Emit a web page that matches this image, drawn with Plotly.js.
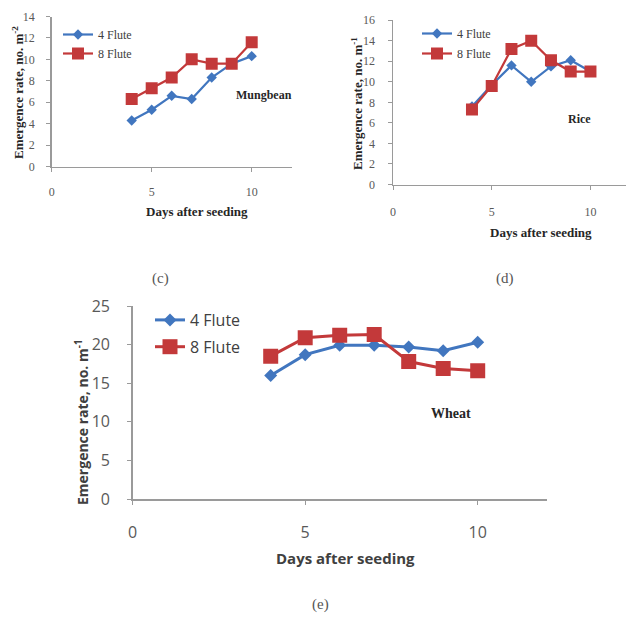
<!DOCTYPE html>
<html>
<head>
<meta charset="utf-8">
<script src="https://cdn.plot.ly/plotly-3.0.1.min.js"></script>
<style>html,body{margin:0;padding:0;background:#fff;}#chart{width:626px;height:622px;}</style>
</head>
<body>
<div id="chart"></div>
<script>
// ---- data ----
const days = [4, 5, 6, 7, 8, 9, 10];
const seriesNames = ["4 Flute", "8 Flute"];
const mungbean4 = [4.3, 5.3, 6.6, 6.3, 8.3, 9.6, 10.3];
const mungbean8 = [6.3, 7.3, 8.3, 10.0, 9.6, 9.6, 11.6];
const rice4 = [7.6, 9.7, 11.6, 10.0, 11.5, 12.1, 11.0];
const rice8 = [7.3, 9.6, 13.2, 14.0, 12.1, 11.0, 11.0];
const wheat4 = [16.0, 18.7, 19.9, 19.9, 19.7, 19.2, 20.3];
const wheat8 = [18.5, 20.9, 21.2, 21.3, 17.8, 16.9, 16.6];
const xTicks = [0, 5, 10];
const cropNames = ["Mungbean", "Rice", "Wheat"];
const panelLabels = ["(c)", "(d)", "(e)"];

const BLUE = "#4176bf", RED = "#c3393a";
const AX = "#9a9a9a", TICKC = "#595959";
const SERIF = "'Liberation Serif', 'DejaVu Serif', serif";
const SANS = "'Open Sans', 'Noto Sans', sans-serif";

function pair(y4, y8, xa, ya, leg, small) {
  return [
    {x: days, y: y4, name: seriesNames[0], xaxis: xa, yaxis: ya, legend: leg, legendgroup: leg + "a",
     mode: "lines+markers", line: {color: BLUE, width: small ? 2.2 : 3},
     marker: {symbol: "diamond", size: small ? 8 : 10, color: BLUE}},
    {x: days, y: y8, name: seriesNames[1], xaxis: xa, yaxis: ya, legend: leg, legendgroup: leg + "b",
     mode: "lines+markers", line: {color: RED, width: small ? 2.2 : 3},
     marker: {symbol: "square", size: small ? 12 : 15, color: RED}}
  ];
}

const data = [].concat(
  pair(mungbean4, mungbean8, "x", "y", "legend", true),
  pair(rice4, rice8, "x2", "y2", "legend2", true),
  pair(wheat4, wheat8, "x3", "y3", "legend3", false)
);

function xax(domain, range, font, standoff, anchor) {
  return {domain: domain, range: range, anchor: anchor, tickvals: xTicks, showline: true, linecolor: AX, linewidth: 1.5,
    ticks: "outside", ticklen: 4, tickcolor: AX, showgrid: false, zeroline: false,
    tickfont: font, ticklabelstandoff: standoff, fixedrange: true};
}
function yax(domain, range, dtick, font, standoff, anchor) {
  return {domain: domain, range: range, anchor: anchor, dtick: dtick, showline: true, linecolor: AX, linewidth: 1.5,
    ticks: "outside", ticklen: 4, tickcolor: AX, showgrid: false, zeroline: false,
    tickfont: font, ticklabelstandoff: standoff, fixedrange: true};
}

const smallTick = {family: SERIF, size: 12, color: TICKC};
const bigTick = {family: SANS, size: 16, color: TICKC};

const W = 626, H = 622;
const px = v => v / W, py = v => 1 - v / H;

const ann = [];
function txt(x, y, text, font, extra) {
  ann.push(Object.assign({xref: "paper", yref: "paper", x: px(x), y: py(y), text: text, showarrow: false,
    xanchor: "center", yanchor: "middle", font: font}, extra || {}));
}
const smallTitle = {family: SERIF, size: 13, color: "#262626"};
// panel (c)
txt(197, 212, "<b>Days after seeding</b>", smallTitle);
txt(18, 93, "<b>Emergence rate, no. m<sup>-2</sup></b>", smallTitle, {textangle: -90});
txt(264, 95, "<b>" + cropNames[0] + "</b>", {family: SERIF, size: 12, color: "#262626"});
txt(160, 278, panelLabels[0], {family: SERIF, size: 15, color: "#555"});
// panel (d)
txt(541, 233, "<b>Days after seeding</b>", smallTitle);
txt(357, 104, "<b>Emergence rate, no. m<sup>-1</sup></b>", smallTitle, {textangle: -90});
txt(579, 119, "<b>" + cropNames[1] + "</b>", {family: SERIF, size: 12, color: "#262626"});
txt(505, 278, panelLabels[1], {family: SERIF, size: 15, color: "#555"});
// panel (e)
txt(345, 558, "<b>Days after seeding</b>", {family: SANS, size: 15, color: "#404040"});
txt(82, 422, "<b>Emergence rate, no. m<sup>-1</sup></b>", {family: SANS, size: 14, color: "#404040"}, {textangle: -90});
txt(451, 413, "<b>" + cropNames[2] + "</b>", {family: SERIF, size: 14, color: "#262626"});
txt(320, 604, panelLabels[2], {family: SERIF, size: 15, color: "#555"});

const layout = {
  width: W, height: H, margin: {l: 0, r: 0, t: 0, b: 0},
  paper_bgcolor: "#fff", plot_bgcolor: "rgba(0,0,0,0)",
  showlegend: true,
  xaxis: xax([px(51.7), px(291.7)], [0, 12], smallTick, 10, "y"),
  yaxis: yax([py(166.5), py(16.5)], [0, 14], 2, smallTick, 9, "x"),
  xaxis2: xax([px(393), 1], [0, 11.8], smallTick, 12, "y2"),
  yaxis2: yax([py(184.5), py(20.2)], [0, 16], 2, smallTick, 10, "x2"),
  xaxis3: xax([px(132.7), px(546.7)], [0, 12], bigTick, 14, "y3"),
  yaxis3: yax([py(499), py(306)], [0, 25], 5, bigTick, 14, "x3"),
  legend: {x: px(58), y: py(20), xanchor: "left", yanchor: "top", bgcolor: "rgba(0,0,0,0)",
    font: {family: SERIF, size: 12, color: "#404040"}, traceorder: "grouped", tracegroupgap: 0},
  legend2: {x: px(417), y: py(19), xanchor: "left", yanchor: "top", bgcolor: "rgba(0,0,0,0)",
    font: {family: SERIF, size: 12, color: "#404040"}, traceorder: "grouped", tracegroupgap: 1},
  legend3: {x: px(150), y: py(303), xanchor: "left", yanchor: "top", bgcolor: "rgba(0,0,0,0)",
    font: {family: SANS, size: 16, color: "#404040"}, traceorder: "grouped", tracegroupgap: 3},
  annotations: ann
};

Plotly.newPlot("chart", data, layout, {displayModeBar: false, staticPlot: true});
</script>
</body>
</html>
